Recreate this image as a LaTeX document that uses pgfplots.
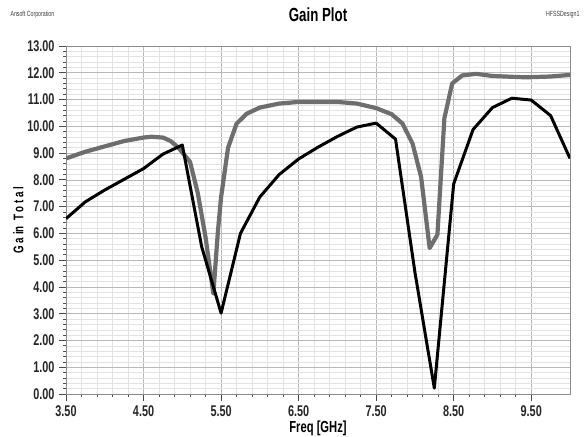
\documentclass[border=0pt]{standalone}
\usepackage{fontspec}
\setmainfont{Liberation Sans}[FakeStretch=0.7]
\usepackage{pgfplots}
\pgfplotsset{compat=1.18}
\definecolor{curvegray}{HTML}{6E6E6E}
\definecolor{framegray}{HTML}{8C8C8C}

\pgfplotstableread{
x y
3.50 8.80
3.75 9.05
4.00 9.25
4.25 9.45
4.50 9.58
4.60 9.61
4.75 9.58
4.85 9.45
4.95 9.20
5.10 8.67
5.20 7.50
5.30 5.85
5.40 3.75
5.46 6.10
5.50 7.35
5.59 9.20
5.70 10.10
5.83 10.47
6.00 10.70
6.25 10.85
6.50 10.91
7.00 10.91
7.25 10.85
7.50 10.68
7.70 10.45
7.84 10.10
7.97 9.35
8.08 8.10
8.19 5.45
8.29 5.95
8.38 10.30
8.48 11.60
8.61 11.90
8.79 11.96
9.00 11.88
9.25 11.85
9.43 11.83
9.75 11.86
10.00 11.92
}\graytrace

\pgfplotstableread{
x y
3.50 6.55
3.75 7.18
4.00 7.62
4.25 8.02
4.50 8.42
4.75 8.96
5.00 9.30
5.25 5.50
5.50 3.02
5.75 6.00
6.00 7.36
6.25 8.20
6.50 8.78
6.75 9.22
7.00 9.62
7.25 9.97
7.50 10.12
7.75 9.52
8.00 4.55
8.25 0.22
8.50 7.85
8.75 9.88
9.00 10.70
9.25 11.05
9.50 10.98
9.75 10.40
10.00 8.80
}\blacktrace

\begin{document}
\begin{tikzpicture}
  \begin{axis}[
      name=ax,
      at={(0,0)}, anchor=south west,
      scale only axis,
      width=504pt, height=348pt,
      xmin=3.5, xmax=10, ymin=0, ymax=13,
      xtick={3.5,4.5,...,9.5},
      ytick={0,1,...,13},
      minor x tick num=4,
      minor y tick num=4,
      xtick pos=bottom, ytick pos=left,
      grid=both,
      major grid style={draw=gray!55, line width=0.6pt},
      minor grid style={draw=gray!22, line width=0.5pt},
      axis line style={draw=framegray, line width=0.8pt},
      tick align=outside,
      major tick length=7pt,
      minor tick length=3pt,
      tick style={draw=black!70, line width=0.7pt},
      /pgf/number format/assume math mode=true,
      /pgf/number format/.cd, fixed, fixed zerofill, precision=2,
      /pgfplots/.cd,
      ticklabel style={font=\bfseries\fontsize{15.5}{15.5}\selectfont, text=black!85},
      yticklabel style={xshift=-1pt},
      xticklabel style={yshift=-1pt},
      xlabel={Freq [GHz]},
      xlabel style={font=\bfseries\fontsize{16}{16}\selectfont, yshift=2pt},
      ylabel={G~a~in~~T~o~t~a~l},
      ylabel style={font=\bfseries\fontsize{14}{14}\selectfont, yshift=-3pt},
    ]
    \addplot[curvegray, line width=4.2pt, line join=round] table[x=x,y=y] {\graytrace};
    \addplot[black, line width=3pt, line join=round] table[x=x,y=y] {\blacktrace};
  \end{axis}
  \node[font=\bfseries\fontsize{19}{19}\selectfont] at ([yshift=31pt]ax.north) {Gain Plot};
  \node[font=\fontsize{7.5}{7.5}\selectfont, text=black!75, anchor=west] at ([xshift=-59pt, yshift=31pt]ax.north west) {Ansoft Corporation};
  \node[font=\fontsize{7.5}{7.5}\selectfont, text=black!75, anchor=east] at ([xshift=13pt, yshift=31pt]ax.north east) {HFSSDesign1};
  \pgfresetboundingbox
  \useasboundingbox (-66pt,-42pt) rectangle (519pt,394pt);
\end{tikzpicture}
\end{document}
